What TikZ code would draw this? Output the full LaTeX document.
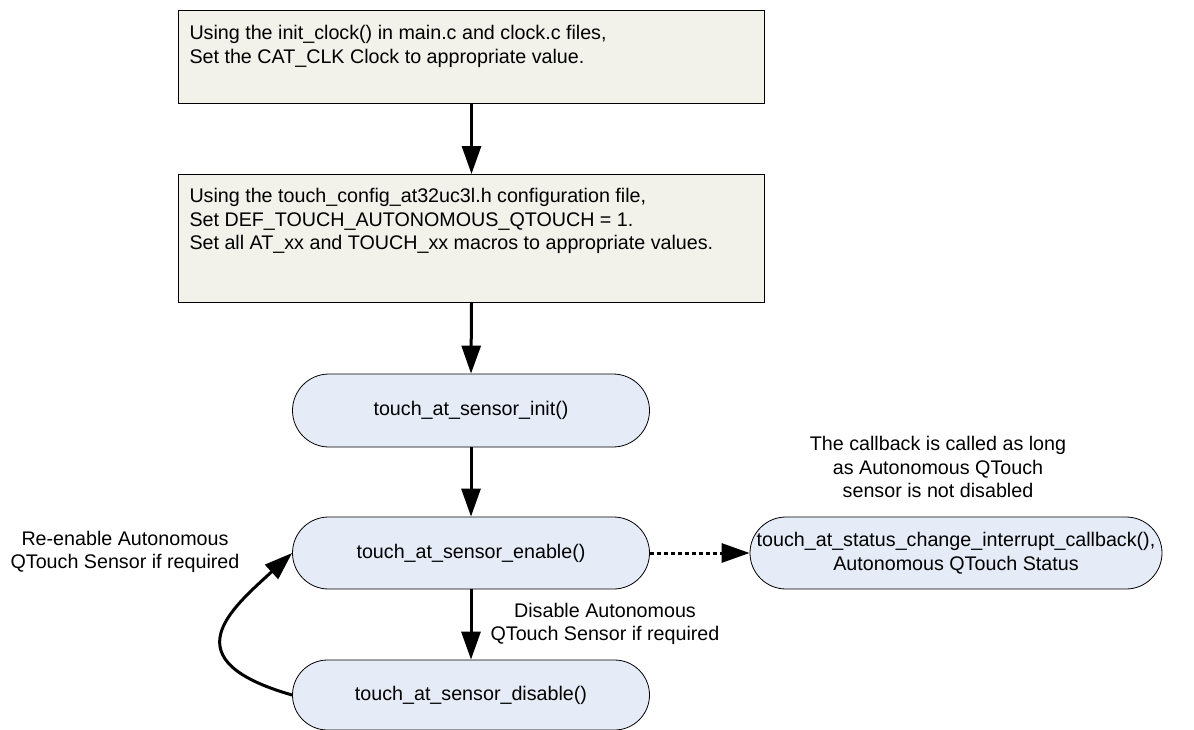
\documentclass[tikz,border=0pt]{standalone}
\usepackage{fontspec}
\setmainfont{Liberation Sans}
\usetikzlibrary{arrows.meta,shapes.misc}
\definecolor{boxfill}{RGB}{242,242,235}
\definecolor{termfill}{RGB}{230,236,247}
\begin{document}
\begin{tikzpicture}[x=1pt,y=-1pt,
  every node/.style={font=\fontsize{19.7}{23.7}\selectfont},
  stepbox/.style={draw, line width=1pt, fill=boxfill, rectangle, anchor=north west, inner xsep=11pt, inner ysep=0pt},
  term/.style={draw, line width=0.8pt, fill=termfill, rounded rectangle, minimum width=357pt, minimum height=72pt, inner sep=0pt, align=center},
  flow/.style={line width=3pt, -{Triangle[length=28pt,width=19pt]}},
  note/.style={align=center}]
\useasboundingbox (0,0) rectangle (1194,729);

\node[stepbox] (b1) at (178,10) {\parbox[c][93pt][t]{564pt}{\rule{0pt}{29pt}Using the init\_clock() in main.c and clock.c files,\\Set the CAT\_CLK Clock to appropriate value.}};
\node[stepbox] (b2) at (178,174) {\parbox[c][128pt][t]{564pt}{\rule{0pt}{28pt}Using the touch\_config\_at32uc3l.h configuration file,\\Set DEF\_TOUCH\_AUTONOMOUS\_QTOUCH = 1.\\Set all AT\_xx and TOUCH\_xx macros to appropriate values.}};

\node[term, minimum height=73pt] (init) at (471,410.5) {touch\_at\_sensor\_init()};
\node[term] (en) at (471,553) {touch\_at\_sensor\_enable()};
\node[term, minimum height=70pt] (dis) at (471,695) {touch\_at\_sensor\_disable()};
\node[term, minimum width=412pt] (cb) at (956,553) {touch\_at\_status\_change\_interrupt\_callback(),\\Autonomous QTouch Status};

\node[note] (lcb) at (938,467) {The callback is called as long\\as Autonomous QTouch\\sensor is not disabled};
\node[note] (lre) at (125,552) {Re-enable Autonomous\\QTouch Sensor if required};
\node[note] (ldis) at (605,624) {Disable Autonomous\\QTouch Sensor if required};

\draw[flow] (b1.south) -- (b2.north);
\draw[flow] (b2.south) -- (init.north);
\draw[flow] (init.south) -- (en.north);
\draw[flow] (en.south) -- (dis.north);
\draw[flow, dash pattern=on 4pt off 3pt] (en.east) -- (cb.west);
\draw[flow] (dis.west) .. controls (170,660) and (230,610) .. (en.west);
\end{tikzpicture}
\end{document}
